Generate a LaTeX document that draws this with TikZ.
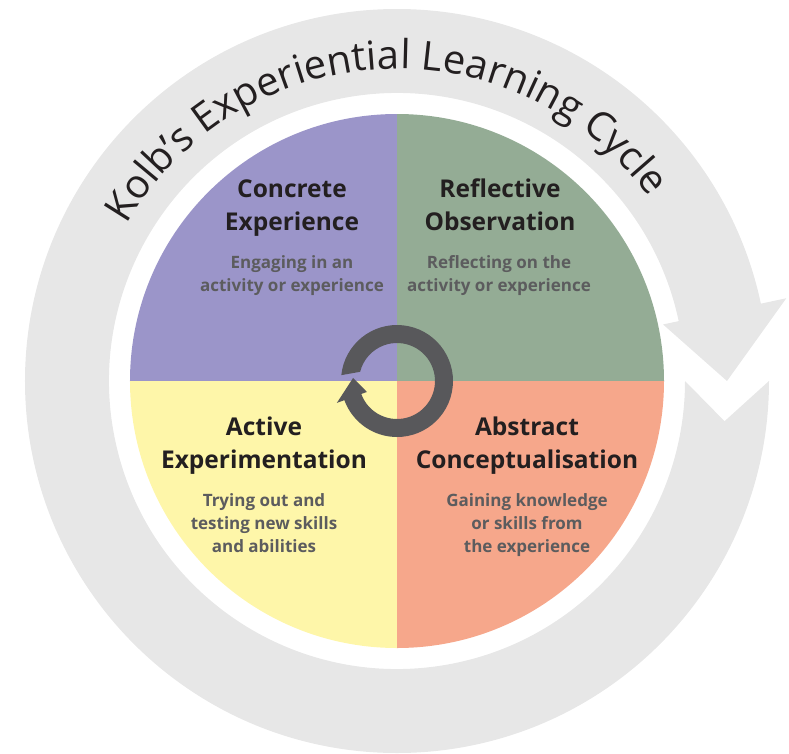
\documentclass[tikz,border=0pt]{standalone}
\usepackage{fontspec}
\setmainfont{Open Sans}
\usetikzlibrary{decorations.text}
\definecolor{Ring}{HTML}{E7E7E7}
\definecolor{Lilac}{HTML}{9B95C9}
\definecolor{Sage}{HTML}{94AC95}
\definecolor{Butter}{HTML}{FEF6A9}
\definecolor{Salmon}{HTML}{F6A78B}
\definecolor{Slate}{HTML}{58585B}
\definecolor{Ink}{HTML}{231F20}
\definecolor{SubInk}{HTML}{5C5C5E}

\begin{document}
\begin{tikzpicture}[x=1pt, y=1pt,
    headtext/.style={font=\fontsize{24.5}{33}\selectfont\bfseries, text=Ink, align=center, anchor=base, inner sep=0pt},
    subtext/.style={font=\fontsize{17}{23}\selectfont\bfseries, text=SubInk, align=center, anchor=base, inner sep=0pt}]
  \useasboundingbox (-397,-372) rectangle (392,381);
  % outer cycle arrow
  \fill[Ring] (12:288) arc[start angle=12, end angle=360, radius=288] -- (-7:330) -- (0:372)
    arc[start angle=360, end angle=12, radius=372] -- (12:398) -- (0:330) -- (12:272) -- cycle;
  % title on the ring
  \path[decorate, decoration={text along path, text align=center,
    text={|\fontsize{40}{40}\selectfont\color{Ink}|Kolb's Experiential Learning Cycle}}]
    (157:312) arc[start angle=157, end angle=29, radius=312];
  % quadrants
  \fill[Lilac] (0,0) -- (90:267) arc[start angle=90, end angle=180, radius=267] -- cycle;
  \fill[Sage] (0,0) -- (0:267) arc[start angle=0, end angle=90, radius=267] -- cycle;
  \fill[Butter] (0,0) -- (180:267) arc[start angle=180, end angle=270, radius=267] -- cycle;
  \fill[Salmon] (0,0) -- (270:267) arc[start angle=270, end angle=360, radius=267] -- cycle;
  % inner cycle arrow
  \fill[Slate] (-160:38) arc[start angle=-160, end angle=166, radius=38] -- (174:56)
    arc[start angle=174, end angle=-160, radius=56] -- (-160:64) -- (176:44) -- (-160:32) -- cycle;
  % texts
  \node[headtext] (ce) at (-105,151) {Concrete\\Experience};
  \node[subtext] (ce-sub) at (-105,90) {Engaging in an\\activity or experience};
  \node[headtext] (ro) at (103,151) {Reflective\\Observation};
  \node[subtext] (ro-sub) at (102,90) {Reflecting on the\\activity or experience};
  \node[headtext] (ae) at (-133,-87) {Active\\Experimentation};
  \node[subtext] (ae-sub) at (-133,-171) {Trying out and\\testing new skills\\and abilities};
  \node[headtext] (ac) at (130,-87) {Abstract\\Conceptualisation};
  \node[subtext] (ac-sub) at (130,-171) {Gaining knowledge\\or skills from\\the experience};
\end{tikzpicture}
\end{document}
